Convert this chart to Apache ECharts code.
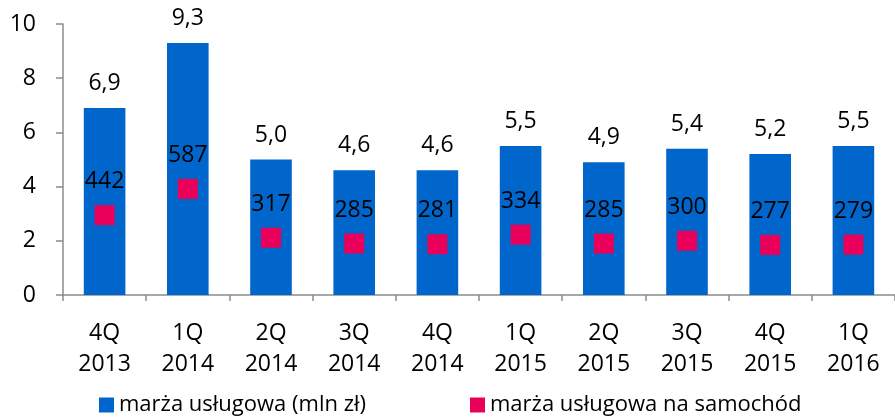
<!DOCTYPE html>
<html><head><meta charset="utf-8">
<script src="https://cdn.jsdelivr.net/npm/echarts@6/dist/echarts.min.js"></script>
<style>html,body{margin:0;padding:0;background:#fff}#c{width:895px;height:417px}</style>
</head><body><div id="c"></div>
<script>
const categories = ['4Q\n2013','1Q\n2014','2Q\n2014','3Q\n2014','4Q\n2014','1Q\n2015','2Q\n2015','3Q\n2015','4Q\n2015','1Q\n2016'];
const marginValues = [6.9, 9.3, 5.0, 4.6, 4.6, 5.5, 4.9, 5.4, 5.2, 5.5];
const perCarValues = [442, 587, 317, 285, 281, 334, 285, 300, 277, 279];
const yTicks = [0, 2, 4, 6, 8, 10];
const seriesNames = ['marża usługowa (mln zł)', 'marża usługowa na samochód'];

const FONT = '"Open Sans", sans-serif';
const FS = 23;
const chart = echarts.init(document.getElementById('c'));
chart.setOption({
  animation: false,
  textStyle: {fontFamily: FONT},
  grid: {left: 63, top: 24, right: -8, bottom: 122, containLabel: false},
  legend: [
    {data: [seriesNames[0]], left: 94, top: 389, itemWidth: 15, itemHeight: 15, icon: 'rect', itemGap: 6,
     textStyle: {fontSize: 22, color: '#000', fontFamily: FONT}},
    {data: [seriesNames[1]], left: 465, top: 389, itemWidth: 15, itemHeight: 15, icon: 'rect',
     textStyle: {fontSize: 22, color: '#000', fontFamily: FONT}}
  ],
  xAxis: {
    type: 'category', data: categories,
    axisLine: {lineStyle: {color: '#8c8c8c', width: 1.5}},
    axisTick: {show: true, length: 6, lineStyle: {color: '#8c8c8c', width: 1.5}},
    axisLabel: {fontSize: FS, color: '#000', margin: 23, lineHeight: 31, fontFamily: FONT}
  },
  yAxis: [
    {type: 'value', min: yTicks[0], max: yTicks[yTicks.length-1], interval: 2,
     axisLine: {show: true, lineStyle: {color: '#8c8c8c', width: 1.5}},
     axisTick: {show: true, length: 7, lineStyle: {color: '#8c8c8c', width: 1.5}},
     splitLine: {show: false},
     axisLabel: {fontSize: FS, color: '#000', margin: 27, fontFamily: FONT}},
    {type: 'value', min: 0, max: 1500, show: false, splitLine: {show: false}}
  ],
  series: [
    {name: seriesNames[0], type: 'bar', data: marginValues, barWidth: '50%',
     itemStyle: {color: '#0066CC'},
     label: {show: true, position: 'top', distance: 13, fontSize: FS, color: '#000', fontFamily: FONT,
       formatter: p => p.value.toFixed(1).replace('.', ',')}},
    {name: seriesNames[1], type: 'scatter', yAxisIndex: 1, data: perCarValues,
     symbol: 'rect', symbolSize: 20, itemStyle: {color: '#E8005A', opacity: 1},
     label: {show: true, position: 'top', distance: 12, fontSize: FS, color: '#000', fontFamily: FONT}}
  ]
});
</script></body></html>
